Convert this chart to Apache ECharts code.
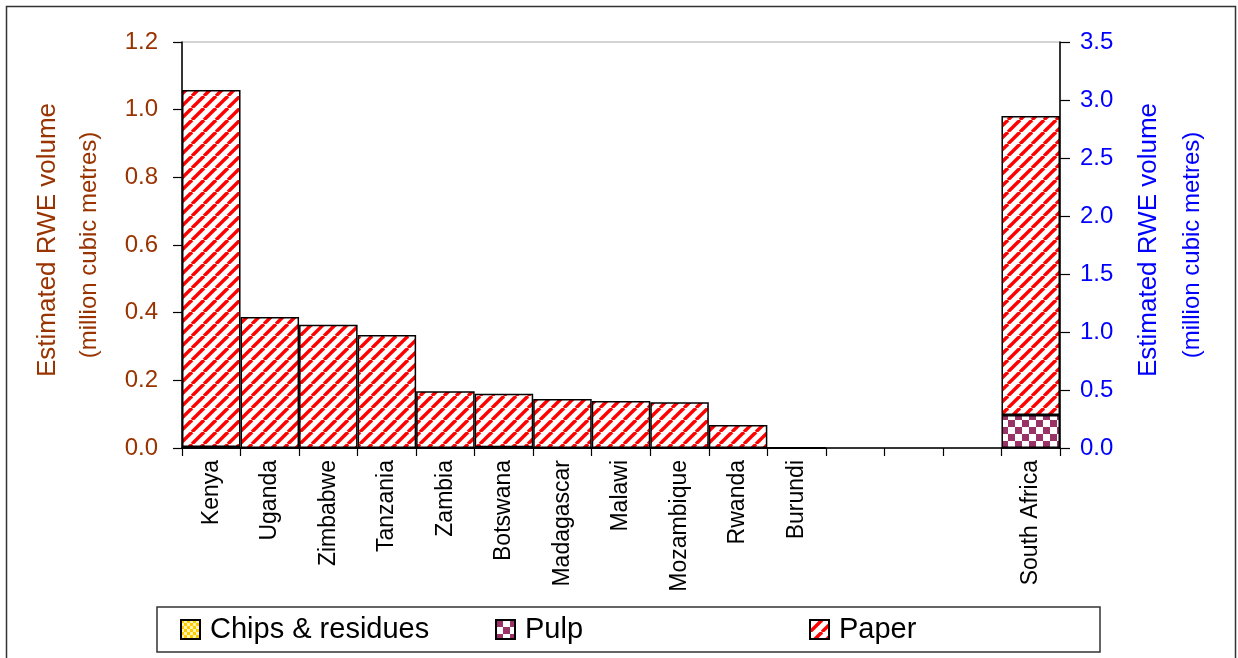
<!DOCTYPE html>
<html>
<head>
<meta charset="utf-8">
<script src="https://cdn.jsdelivr.net/npm/echarts@6/dist/echarts.min.js"></script>
<style>html,body{margin:0;padding:0;background:#fff;}#c{width:1238px;height:658px;}</style>
</head>
<body>
<div id="c"></div>
<script>
// ---- data ----
const categories = ['Kenya','Uganda','Zimbabwe','Tanzania','Zambia','Botswana','Madagascar','Malawi','Mozambique','Rwanda','Burundi',' ','  ','   ','South Africa'];
// left axis (million m3)
const chipsLeft = [0, 0, 0, 0, 0, 0, 0, 0, 0, 0, 0, '-', '-', '-', '-'];
const pulpLeft  = [0.003, 0, 0, 0, 0, 0.002, 0, 0, 0, 0, 0, '-', '-', '-', '-'];
const paperLeft = [1.055, 0.387, 0.364, 0.334, 0.168, 0.158, 0.145, 0.139, 0.135, 0.068, 0, '-', '-', '-', '-'];
// right axis (South Africa)
const chipsRight = ['-', '-', '-', '-', '-', '-', '-', '-', '-', '-', '-', '-', '-', '-', 0];
const pulpRight  = ['-', '-', '-', '-', '-', '-', '-', '-', '-', '-', '-', '-', '-', '-', 0.284];
const paperRight = ['-', '-', '-', '-', '-', '-', '-', '-', '-', '-', '-', '-', '-', '-', 2.578];
const leftTicks = {min: 0, max: 1.2, interval: 0.2};
const rightTicks = {min: 0, max: 3.5, interval: 0.5};

// ---- patterns ----
function stripeTile() {
  const c = document.createElement('canvas'); c.width = 12; c.height = 12;
  const g = c.getContext('2d');
  g.fillStyle = '#fff'; g.fillRect(0, 0, 12, 12);
  g.strokeStyle = '#ff0000'; g.lineWidth = 3.4;
  [-12, 0, 12].forEach(k => { g.beginPath(); g.moveTo(k, 12); g.lineTo(k + 12, 0); g.stroke(); });
  return c;
}
function checkerTile(a, b, s) {
  const c = document.createElement('canvas'); c.width = 2 * s; c.height = 2 * s;
  const g = c.getContext('2d');
  g.fillStyle = b; g.fillRect(0, 0, 2 * s, 2 * s);
  g.fillStyle = a; g.fillRect(0, 0, s, s); g.fillRect(s, s, s, s);
  return c;
}
const paperFill = {image: stripeTile(), repeat: 'repeat'};
const pulpFill = {image: checkerTile('#993366', '#ffffff', 7), repeat: 'repeat'};
const chipsFill = {image: checkerTile('#ffcc00', '#fff4b8', 3), repeat: 'repeat'};

const FONT = 'Liberation Sans, Arial, sans-serif';
const border = {borderColor: '#000', borderWidth: 1.5};

function mk(name, data, fill, yi, stack) {
  return {
    name: name, type: 'bar', stack: stack, yAxisIndex: yi, data: data,
    barCategoryGap: 0, barGap: '-100%',
    itemStyle: Object.assign({color: fill}, border),
    emphasis: {disabled: true}, animation: false
  };
}

const chart = echarts.init(document.getElementById('c'), null, {renderer: 'canvas'});
chart.setOption({
  animation: false,
  textStyle: {fontFamily: FONT},
  grid: {left: 182, right: 178, top: 42, bottom: 210, show: true, borderColor: '#aaa', borderWidth: 1},
  legend: [
    {data: ['Chips & residues'], left: 175, top: 610},
    {data: ['Pulp'], left: 490, top: 610},
    {data: ['Paper'], left: 804, top: 610}
  ].map(l => Object.assign(l, {
    icon: 'rect', itemWidth: 19, itemHeight: 19, selectedMode: false,
    textStyle: {fontSize: 29, color: '#000', fontFamily: FONT, padding: [0, 0, 0, 5]}
  })),
  xAxis: {
    type: 'category', data: categories,
    axisLine: {lineStyle: {color: '#000', width: 1.5}},
    axisTick: {show: true, length: 8, lineStyle: {color: '#000', width: 1.2}},
    axisLabel: {rotate: 90, interval: 0, fontSize: 23, color: '#000', margin: 12, fontFamily: FONT},
    splitLine: {show: false}
  },
  yAxis: [
    {
      type: 'value', position: 'left', min: leftTicks.min, max: leftTicks.max, interval: leftTicks.interval,
      axisLine: {show: true, lineStyle: {color: '#000', width: 1.5}},
      axisTick: {show: true, length: 9, lineStyle: {color: '#000', width: 1.2}},
      axisLabel: {formatter: v => v.toFixed(1), color: '#993300', fontSize: 24, margin: 24, fontFamily: FONT},
      splitLine: {show: false}
    },
    {
      type: 'value', position: 'right', min: rightTicks.min, max: rightTicks.max, interval: rightTicks.interval,
      axisLine: {show: true, lineStyle: {color: '#000', width: 1.5}},
      axisTick: {show: true, length: 10, lineStyle: {color: '#000', width: 1.2}},
      axisLabel: {formatter: v => v.toFixed(1), color: '#0000ff', fontSize: 24, margin: 20, fontFamily: FONT},
      splitLine: {show: false}
    }
  ],
  series: [
    mk('Chips & residues', chipsLeft, chipsFill, 0, 'L'),
    mk('Pulp', pulpLeft, pulpFill, 0, 'L'),
    mk('Paper', paperLeft, paperFill, 0, 'L'),
    mk('Chips & residues', chipsRight, chipsFill, 1, 'R'),
    mk('Pulp', pulpRight, pulpFill, 1, 'R'),
    mk('Paper', paperRight, paperFill, 1, 'R')
  ],
  graphic: [
    {type: 'rect', shape: {x: 6.5, y: 6.5, width: 1229, height: 700}, style: {fill: 'none', stroke: '#333', lineWidth: 1.5}, silent: true, z: -1},
    {type: 'rect', shape: {x: 157, y: 607, width: 943, height: 45}, style: {fill: 'none', stroke: '#333', lineWidth: 1.5}, silent: true, z: -1},
    {type: 'text', x: 48, y: 240, rotation: Math.PI / 2, style: {text: 'Estimated RWE volume', fill: '#993300', fontSize: 26, fontFamily: FONT, align: 'center', verticalAlign: 'middle'}},
    {type: 'text', x: 89, y: 245, rotation: Math.PI / 2, style: {text: '(million cubic metres)', fill: '#993300', fontSize: 24, fontFamily: FONT, align: 'center', verticalAlign: 'middle'}},
    {type: 'text', x: 1149, y: 240, rotation: Math.PI / 2, style: {text: 'Estimated RWE volume', fill: '#0000ff', fontSize: 26, fontFamily: FONT, align: 'center', verticalAlign: 'middle'}},
    {type: 'text', x: 1192, y: 245, rotation: Math.PI / 2, style: {text: '(million cubic metres)', fill: '#0000ff', fontSize: 24, fontFamily: FONT, align: 'center', verticalAlign: 'middle'}}
  ]
});
</script>
</body>
</html>
